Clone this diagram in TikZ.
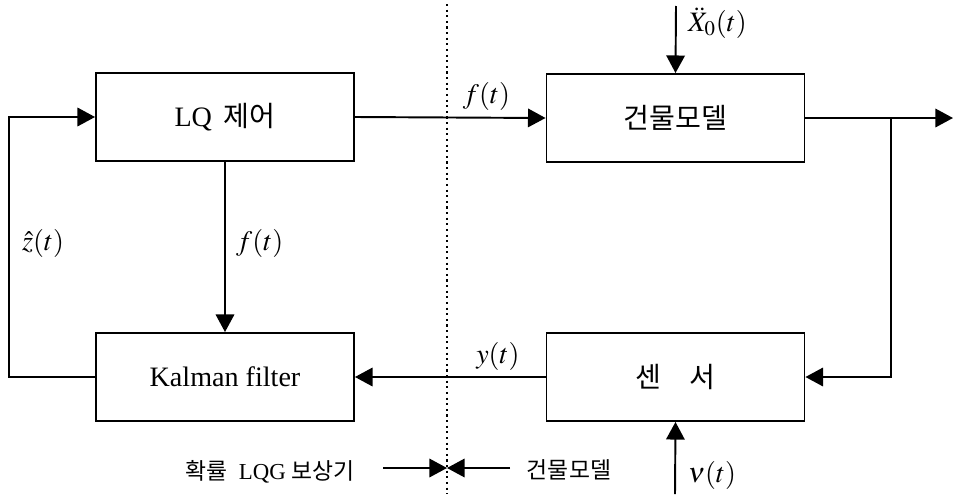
\documentclass[tikz,border=0pt]{standalone}
\usepackage{mathptmx}
\usepackage[no-math]{fontspec}
\setmainfont{Liberation Serif}
\newfontfamily\kr{Noto Sans CJK KR}
\usepackage{tikz}
\usetikzlibrary{arrows.meta}

\begin{document}
\begin{tikzpicture}[x=0.02cm,y=-0.02cm]

\tikzset{
    box/.style = {
    minimum height=1.76cm,
    minimum width = 5.16cm
    }
}

\tikzstyle{blok}=[draw, line width=1.1pt, box, font=\fontsize{16}{18}\selectfont]
\tikzstyle{lien}=[line width=1.1pt, -{Triangle[length=10pt,width=10.5pt]}]
\tikzstyle{etiq}=[font=\fontsize{16}{18}\selectfont]
\tikzstyle{legende}=[font=\fontsize{13}{15}\selectfont]

\useasboundingbox (0,0) rectangle (953,494);

% les blocs
\node (lq) [blok] at (225,117) {LQ\, {\kr 제어}};
\node (plant) [blok] at (675.5,118) {\kr 건물모델};
\node (kf) [blok] at (225,377) {Kalman filter};
\node (sensor) [blok] at (675.5,377) {\kr 센\quad 서};

% points libres
\coordinate (out) at (953,118);
\coordinate (br) at (891,118);
\coordinate (fb) at (9,246);
\coordinate (dist) at (676,6);
\coordinate (noise) at (675,494);
\coordinate (top) at (447,4);
\coordinate (bot) at (447,494);
\coordinate (mid) at (447,468);
\coordinate (lqgL) at (383,468);
\coordinate (bldR) at (510,468);

% liaisons
\draw [lien] (lq.east) -- (plant.west) node[pos=0.69, above, etiq] {$f(t)$};
\draw [lien] (plant.east) -- (out);
\draw [lien] (br) |- (sensor.east);
\draw [lien] (sensor.west) -- (kf.east) node[pos=0.25, above, etiq] {$y(t)$};
\draw [lien] (kf.west) -| (fb) |- (lq.west);
\draw [lien] (lq.south) -- (kf.north);
\draw [lien] (dist) -- (plant.north);
\draw [lien] (noise) -- (sensor.south);

% etiquettes
\node (zhat) [etiq, anchor=west] at (16,243) {$\hat{z}(t)$};
\node (fvert) [etiq, anchor=west] at (230,243) {$f(t)$};
\node (xg) [etiq, anchor=west] at (682,23) {$\ddot{X}_0(t)$};
\node (nu) [etiq, anchor=west] at (682,475) {$\nu(t)$};

% separation
\draw [dotted, line width=1.2pt] (top) -- (bot);
\draw [lien] (lqgL) -- (mid);
\draw [lien] (bldR) -- (mid);
\node (lqg) [legende] at (270,472) {{\kr 확률}\ \ LQG {\kr 보상기}};
\node (bld) [legende] at (569,470) {\kr 건물모델};

\end{tikzpicture}
\end{document}
